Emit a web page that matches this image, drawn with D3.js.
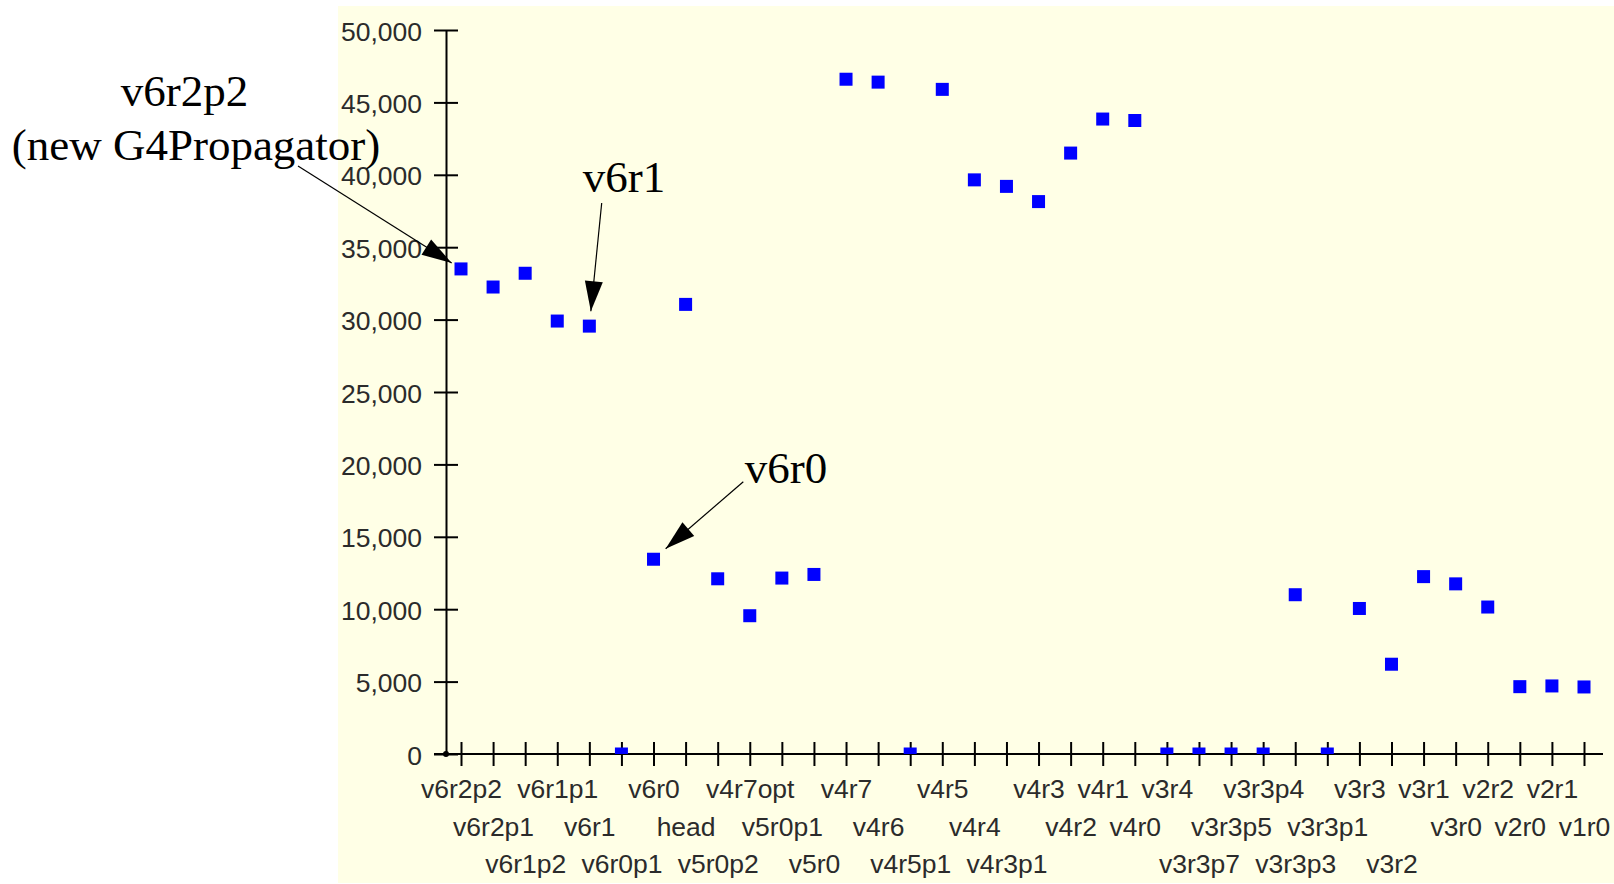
<!DOCTYPE html>
<html><head><meta charset="utf-8">
<script src="https://cdn.jsdelivr.net/npm/d3@7"></script>
<style>body{margin:0;background:#fff;} svg{display:block}</style>
</head><body>
<svg id="chart" width="1614" height="884"></svg>
<script>
// ---- data ----
const categories = ["v6r2p2","v6r2p1","v6r1p2","v6r1p1","v6r1","v6r0p1","v6r0","head","v5r0p2","v4r7opt",
  "v5r0p1","v5r0","v4r7","v4r6","v4r5p1","v4r5","v4r4","v4r3p1","v4r3","v4r2","v4r1","v4r0",
  "v3r4","v3r3p7","v3r3p5","v3r3p4","v3r3p3","v3r3p1","v3r3","v3r2","v3r1","v3r0","v2r2","v2r0","v2r1","v1r0"];
const values = [33500,32250,33200,29900,29550,0,13450,31050,12100,9550,
  12150,12400,46600,46400,0,45900,39650,39200,38150,41500,43850,43750,
  0,0,0,0,11000,0,10050,6200,12250,11750,10150,4650,4700,4630];
const yTicks = [0,5000,10000,15000,20000,25000,30000,35000,40000,45000,50000];
const annotationTexts = [["v6r2p2","(new G4Propagator)"],["v6r1"],["v6r0"]];
const annotationTargets = ["v6r2p2","v6r1","v6r0"];

// ---- layout ----
const svg = d3.select("#chart");
const bg = {x:338, y:6, w:1614-338, h:877};
const axisX = 446, axisY = 754, yTop = 30;
const x = d3.scalePoint().domain(categories).range([461, 1584]);
const y = d3.scaleLinear().domain([0, 50000]).range([axisY, yTop]);
const tickFont = "'Liberation Sans', Arial, sans-serif";
const fs = 26.5;

svg.append("rect").attr("x",bg.x).attr("y",bg.y).attr("width",bg.w).attr("height",bg.h).attr("fill","#ffffe6");

// clip for markers
svg.append("defs").append("clipPath").attr("id","plotclip")
  .append("rect").attr("x",axisX).attr("y",0).attr("width",1614-axisX).attr("height",axisY);

// Y axis
const yAxis = svg.append("g").attr("transform",`translate(${axisX},0)`)
  .call(d3.axisLeft(y).tickValues(yTicks).tickFormat(d3.format(",")).tickSizeOuter(0).tickPadding(18));
yAxis.select(".domain").attr("stroke","#000").attr("stroke-width",2);
yAxis.selectAll(".tick line").attr("x1",12).attr("x2",-12).attr("stroke","#000").attr("stroke-width",2);
yAxis.selectAll(".tick text").attr("font-family",tickFont).attr("font-size",fs).attr("fill","#2b2b2b").attr("dy","0.38em");

// X axis
const xAxis = svg.append("g").attr("transform",`translate(0,${axisY})`)
  .call(d3.axisBottom(x).tickSizeOuter(0).tickPadding(0));
xAxis.select(".domain").remove();
xAxis.selectAll(".tick line").attr("y1",-12).attr("y2",12).attr("stroke","#000").attr("stroke-width",2);
svg.append("line").attr("x1",434).attr("x2",1603).attr("y1",axisY).attr("y2",axisY).attr("stroke","#000").attr("stroke-width",2);

// staggered x labels
const rowBase = [798-axisY, 835.5-axisY, 873-axisY];
const rowRight = [-Infinity,-Infinity,-Infinity];
xAxis.selectAll(".tick text")
  .attr("font-family",tickFont).attr("font-size",fs).attr("fill","#2b2b2b").attr("dy",null)
  .each(function(d){
    const w = this.getComputedTextLength();
    const cx = x(d);
    let r = 0;
    while (r < 2 && cx - w/2 < rowRight[r] + 5) r++;
    rowRight[r] = cx + w/2;
    d3.select(this).attr("y", rowBase[r]);
  });

// origin dot
svg.append("circle").attr("cx",axisX).attr("cy",axisY).attr("r",3).attr("fill","#000");

// markers
const ms = 13;
svg.append("g").attr("clip-path","url(#plotclip)")
  .selectAll("rect").data(categories).join("rect")
  .attr("x", d => x(d) - ms/2)
  .attr("y", (d,i) => y(values[i]) - ms/2)
  .attr("width", ms).attr("height", ms)
  .attr("fill","#0000ff");

// annotations
const annLayout = [
  {tx:[184.5,196], ty:[106,160], start:[298,166], gap:11},
  {tx:[624], ty:[191.7], start:[601.7,203], gap:15},
  {tx:[786], ty:[483], start:[743.3,481.7], gap:16}
];
const annFont = "'Liberation Serif', 'Times New Roman', serif";
annotationTexts.forEach((lines, k) => {
  const L = annLayout[k];
  lines.forEach((t, j) => {
    svg.append("text").attr("x",L.tx[j]).attr("y",L.ty[j]).attr("text-anchor","middle")
      .attr("font-family",annFont).attr("font-size",45).attr("fill","#000").text(t);
  });
  const idx = categories.indexOf(annotationTargets[k]);
  const px = x(annotationTargets[k]), py = y(values[idx]);
  const dx = L.start[0]-px, dy = L.start[1]-py, len = Math.hypot(dx,dy);
  const ux = dx/len, uy = dy/len;
  const tipX = px + ux*L.gap, tipY = py + uy*L.gap;
  svg.append("line").attr("x1",L.start[0]).attr("y1",L.start[1]).attr("x2",tipX).attr("y2",tipY)
    .attr("stroke","#000").attr("stroke-width",1.2);
  const hl = 30, hw = 9;
  const bx = tipX + ux*hl, by = tipY + uy*hl;
  const nx = -uy, ny = ux;
  svg.append("path").attr("d",`M${tipX},${tipY}L${bx+nx*hw},${by+ny*hw}L${bx-nx*hw},${by-ny*hw}Z`).attr("fill","#000");
});
</script>
</body></html>
